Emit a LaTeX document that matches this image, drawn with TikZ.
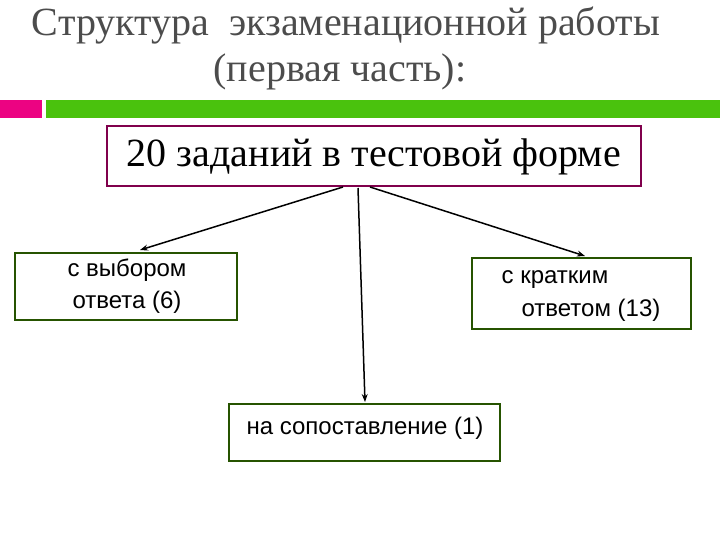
\documentclass[tikz,border=0pt]{standalone}
\usepackage{fontspec}
\usetikzlibrary{arrows.meta}
\setmainfont{Liberation Serif}
\setsansfont{Liberation Sans}
\begin{document}
\begin{tikzpicture}[x=1pt,y=-1pt,
  gbox/.style={draw=green!25!black!70!olive, line width=2pt, inner sep=0pt},
  btext/.style={font=\sffamily\fontsize{24}{28}\selectfont, inner sep=0pt},
  arr/.style={-{Stealth[length=8pt,width=6pt]}, line width=1.5pt}]
\useasboundingbox (0,0) rectangle (720,540);
\node[text=black!70, font=\fontsize{40}{44}\selectfont] (t1) at (346,26) {Структура\ \ экзаменационной работы};
\node[text=black!70, font=\fontsize{40}{44}\selectfont] (t2) at (340,72) {(первая часть):};
\fill[magenta!90!red] (0,100) rectangle (42,118);
\fill[green!55!lime!75!black!95!white] (46,100) rectangle (720,118);
\draw[draw=violet!50!purple!80!black, line width=2pt] (107,126) rectangle (641,186);
\node[font=\fontsize{40}{44}\selectfont] (m) at (374,157) {20 заданий в тестовой форме};
\node[gbox, minimum width=222pt, minimum height=67pt] (l) at (126,286.5) {};
\node[btext] (lt1) at (127,270) {с выбором};
\node[btext] (lt2) at (127,302) {ответа (6)};
\node[gbox, minimum width=219pt, minimum height=71pt] (r) at (581.5,293.5) {};
\node[btext] (rt1) at (555,280) {с кратким};
\node[btext] (rt2) at (591,310) {ответом (13)};
\node[gbox, minimum width=271pt, minimum height=57pt] (b) at (364.5,432.5) {};
\node[btext] (bt) at (365,428) {на сопоставление (1)};
\coordinate (a1) at (343,187); \coordinate (a2) at (358,188); \coordinate (a3) at (370,187);
\coordinate (e1) at (140,250); \coordinate (e2) at (365,402); \coordinate (e3) at (585,256);
\draw[arr] (a1) -- (e1);
\draw[arr] (a2) -- (e2);
\draw[arr] (a3) -- (e3);
\end{tikzpicture}
\end{document}
